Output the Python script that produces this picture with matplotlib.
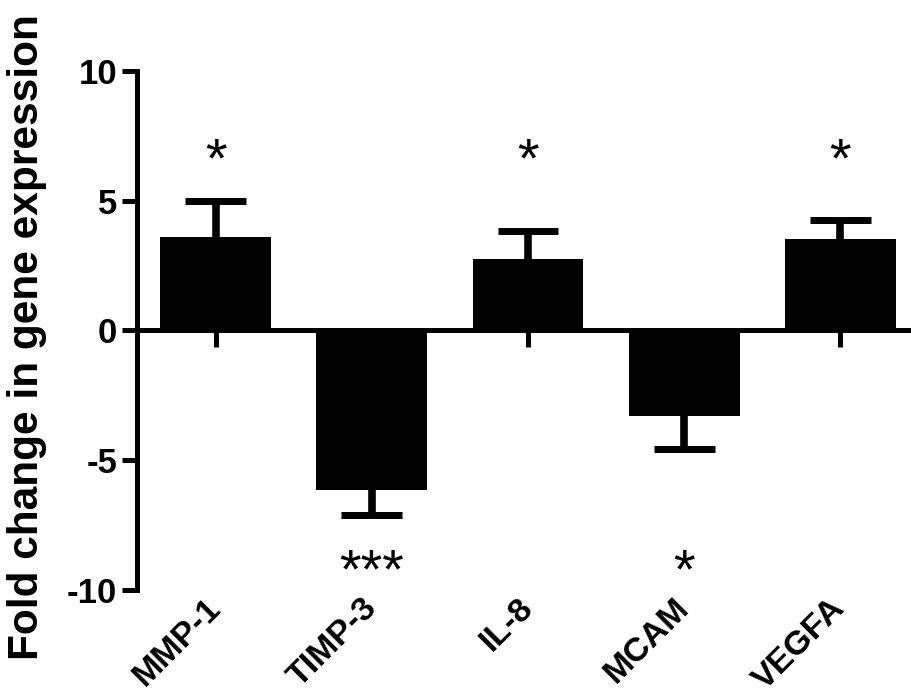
import numpy as np
import matplotlib
matplotlib.use("Agg")
import matplotlib.pyplot as plt

plt.rcParams['font.family'] = ['Liberation Sans', 'DejaVu Sans']
plt.rcParams['font.weight'] = 'bold'

genes = ["MMP-1", "TIMP-3", "IL-8", "MCAM", "VEGFA"]
fold = [3.58, -6.13, 2.74, -3.31, 3.51]
sem = [1.40, 0.96, 1.10, 1.24, 0.73]
stars = ["*", "***", "*", "*", "*"]
star_y = [6.45, -9.35, 6.45, -9.35, 6.45]
yticks = [-10, -5, 0, 5, 10]

fig = plt.figure(figsize=(9.12, 7.0), dpi=100)
ax = fig.add_axes([0.150, 0.157, 0.850, 0.742])

x = np.arange(len(genes))
ax.bar(x, fold, width=0.71, color="black", zorder=3)

# one-sided error bars (away from zero)
for xi, v, e in zip(x, fold, sem):
    tip = v + np.sign(v) * e
    ax.vlines(xi, 0, tip, color="black", lw=5.5, zorder=4)
    ax.hlines(tip, xi - 0.195, xi + 0.195, color="black", lw=5, zorder=4)

for xi, s, sy in zip(x, stars, star_y):
    ax.text(xi, sy, s, ha="center", va="center", fontsize=40,
            fontweight="normal", zorder=5)

ax.set_xlim(-0.506, 4.46)
ax.set_ylim(-10, 10)

for side in ["top", "right"]:
    ax.spines[side].set_visible(False)
ax.spines["bottom"].set_position(("data", 0))
for side in ["left", "bottom"]:
    ax.spines[side].set_linewidth(3.6)
    ax.spines[side].set_capstyle("projecting")

ax.set_yticks(yticks)
ax.set_yticklabels([str(t) for t in yticks])
ax.tick_params(axis="y", length=11, width=3.6, pad=3, labelsize=25)
ax.set_xticks(x)
ax.set_xticklabels([])
ax.tick_params(axis="x", length=12, width=3.6)

for xi, g in zip(x, genes):
    ax.text(xi - 0.07, -10.1, g, rotation=45, rotation_mode="anchor",
            ha="right", va="top", fontsize=24.5, clip_on=False)

fig.text(0.030, 0.519, "Fold change in gene expression", rotation=90,
         ha="center", va="center", fontsize=30.5)

fig.savefig("out.png", dpi=100, facecolor="white")
